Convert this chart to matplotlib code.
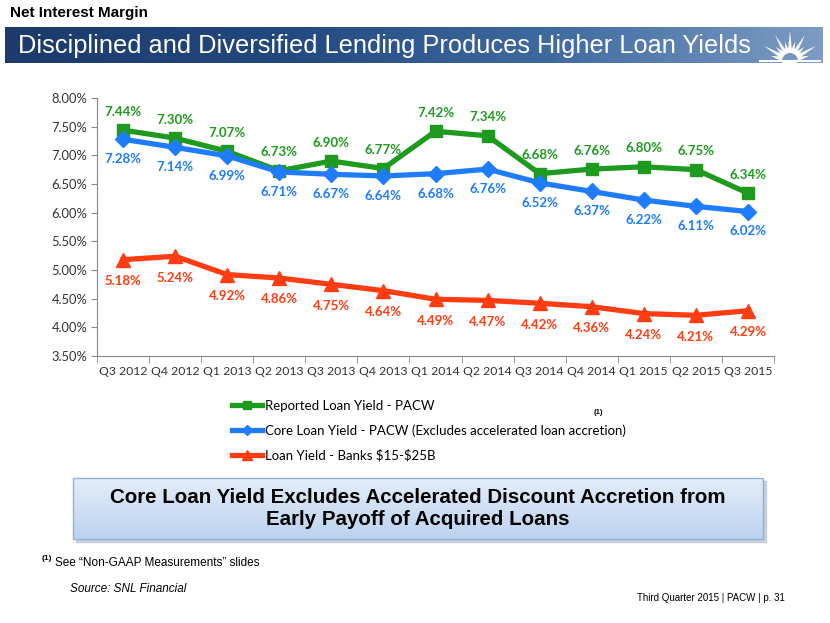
import numpy as np
import matplotlib
matplotlib.use('Agg')
import matplotlib.pyplot as plt
from matplotlib.patches import Rectangle, Polygon, Wedge
from matplotlib.colors import LinearSegmentedColormap
from matplotlib.ticker import FuncFormatter, FixedLocator

quarters = ['Q3 2012', 'Q4 2012', 'Q1 2013', 'Q2 2013', 'Q3 2013', 'Q4 2013', 'Q1 2014',
            'Q2 2014', 'Q3 2014', 'Q4 2014', 'Q1 2015', 'Q2 2015', 'Q3 2015']
reported = [7.44, 7.30, 7.07, 6.73, 6.90, 6.77, 7.42, 7.34, 6.68, 6.76, 6.80, 6.75, 6.34]
core = [7.28, 7.14, 6.99, 6.71, 6.67, 6.64, 6.68, 6.76, 6.52, 6.37, 6.22, 6.11, 6.02]
peers = [5.18, 5.24, 4.92, 4.86, 4.75, 4.64, 4.49, 4.47, 4.42, 4.36, 4.24, 4.21, 4.29]

GREEN = '#1e9a1e'
BLUE = '#1f7cff'
RED = '#ff3c12'
W, H = 830, 623


def px(x, y, w, h):
    # pixel box (top-left origin) -> figure fraction
    return [x / W, 1 - (y + h) / H, w / W, h / H]


fig = plt.figure(figsize=(8.3, 6.23), dpi=100)
fig.patch.set_facecolor('white')

# overlay axes in pixel coords for decoration
deco = fig.add_axes([0, 0, 1, 1])
deco.set_xlim(0, W)
deco.set_ylim(H, 0)
deco.axis('off')

deco.text(10, 13, 'Net Interest Margin', fontsize=11, fontweight='bold',
          family='Liberation Sans', va='center', ha='left')

# banner gradient
grad = np.linspace(0, 1, 256)[None, :]
bcmap = LinearSegmentedColormap.from_list('b', ['#1c3a6b', '#22487e', '#3f6aa0', '#7d9cc4'])
deco.imshow(grad, extent=[5, 822, 63, 27], cmap=bcmap, aspect='auto', zorder=1)
deco.text(18, 46, 'Disciplined and Diversified Lending Produces Higher Loan Yields',
          color='white', fontsize=18.3, family='Liberation Sans', va='center', ha='left',
          zorder=3)
# sunburst icon
cx, cy = 790, 61
for ang in np.linspace(15, 165, 11):
    a = np.radians(ang)
    r = 30 if int(round(ang)) % 30 == 0 else 20
    tip = (cx + r * np.cos(a), cy - r * np.sin(a))
    perp = np.array([-np.sin(a), -np.cos(a)]) * 2.2
    deco.add_patch(Polygon([(cx + 8 * np.cos(a) + perp[0], cy - 8 * np.sin(a) + perp[1]),
                            tip,
                            (cx + 8 * np.cos(a) - perp[0], cy - 8 * np.sin(a) - perp[1])],
                           closed=True, color='white', lw=0, zorder=3))
deco.add_patch(Wedge((cx, cy), 7, 0, 180, color='white', zorder=3))
deco.plot([760, 820], [61, 61], color='white', lw=1.5, zorder=3)

# callout box
deco.add_patch(Rectangle((76, 481), 690, 61, color='#c9cfd8', zorder=1))
cgrad = np.linspace(0, 1, 64)[:, None]
ccmap = LinearSegmentedColormap.from_list('c', ['#e3edf9', '#bcd3ef'])
deco.imshow(cgrad, extent=[73, 763, 539, 478], cmap=ccmap, aspect='auto', zorder=2)
deco.add_patch(Rectangle((73, 478), 690, 61, fill=False, ec='#8fb0dc', lw=1, zorder=3))
deco.text(418, 508.5, 'Core Loan Yield Excludes Accelerated Discount Accretion from\nEarly Payoff of Acquired Loans',
          ha='center', va='center', fontsize=14.8, fontweight='bold', family='Liberation Sans',
          linespacing=1.22, zorder=4)

# footnotes
deco.text(42, 559, '(1)', fontsize=6, fontweight='bold', family='Liberation Sans',
          va='center', ha='left')
deco.text(55, 563, 'See \u201cNon-GAAP Measurements\u201d slides', fontsize=8.5,
          family='Liberation Sans', va='center', ha='left')
deco.text(70, 589, 'Source: SNL Financial', fontsize=8.5, style='italic',
          family='Liberation Sans', va='center', ha='left')
deco.text(785, 598, 'Third Quarter 2015 | PACW | p. 31', fontsize=7,
          family='Liberation Sans', va='center', ha='right')
deco.text(598, 412, '(1)', fontsize=5.5, fontweight='bold', family='Liberation Sans',
          va='center', ha='center')

# chart
ax = fig.add_axes(px(97, 98, 677, 258))
x = np.arange(len(quarters))
lg, = ax.plot(x, reported, color=GREEN, lw=3.8, marker='s', ms=9, zorder=4,
              label='Reported Loan Yield - PACW')
lb, = ax.plot(x, core, color=BLUE, lw=3.8, marker='D', ms=8, zorder=5,
              label='Core Loan Yield - PACW (Excludes accelerated loan accretion)')
lr, = ax.plot(x, peers, color=RED, lw=3.8, marker='^', ms=10, zorder=3,
              label='Loan Yield - Banks \\$15-\\$25B')

lab_font = dict(fontsize=9.5, fontweight='bold', family='Lato', ha='center')
for i in x:
    ax.annotate(f'{reported[i]:.2f}%', (i, reported[i]), xytext=(0, 9), textcoords='offset points',
                color=GREEN, va='bottom', **lab_font)
    ax.annotate(f'{core[i]:.2f}%', (i, core[i]), xytext=(0, -10), textcoords='offset points',
                color=BLUE, va='top', **lab_font)
    ax.annotate(f'{peers[i]:.2f}%', (i, peers[i]), xytext=(0, -11), textcoords='offset points',
                color=RED, va='top', **lab_font)

ax.set_xlim(-0.5, len(quarters) - 0.5)
ax.set_ylim(3.5, 8.0)
ax.set_yticks(np.arange(3.5, 8.01, 0.5))
ax.yaxis.set_major_formatter(FuncFormatter(lambda v, p: f'{v:.2f}%'))
ax.set_xticks(x)
ax.set_xticklabels(quarters)
ax.xaxis.set_minor_locator(FixedLocator(np.arange(-0.5, len(quarters), 1.0)))
ax.tick_params(axis='x', which='major', length=0, pad=7)
ax.tick_params(axis='x', which='minor', length=5, color='#888888', direction='out')
ax.tick_params(axis='y', length=4, color='#888888', pad=3)
for t in ax.get_xticklabels():
    t.set_family('Lato')
    t.set_fontsize(8.8)
    t.set_color('#333333')
for t in ax.get_yticklabels():
    t.set_family('Lato')
    t.set_fontsize(9.3)
    t.set_color('#333333')
for s in ['top', 'right']:
    ax.spines[s].set_visible(False)
for s in ['left', 'bottom']:
    ax.spines[s].set_color('#888888')

leg = fig.legend(handles=[lg, lb, lr], loc='upper left', bbox_to_anchor=(220 / W, 1 - 388 / H),
                 frameon=False, prop={'family': 'Lato', 'size': 9.5}, handlelength=2.3,
                 handletextpad=0.2, labelspacing=0.95, markerscale=0.7)

fig.savefig('out.png', dpi=100)
